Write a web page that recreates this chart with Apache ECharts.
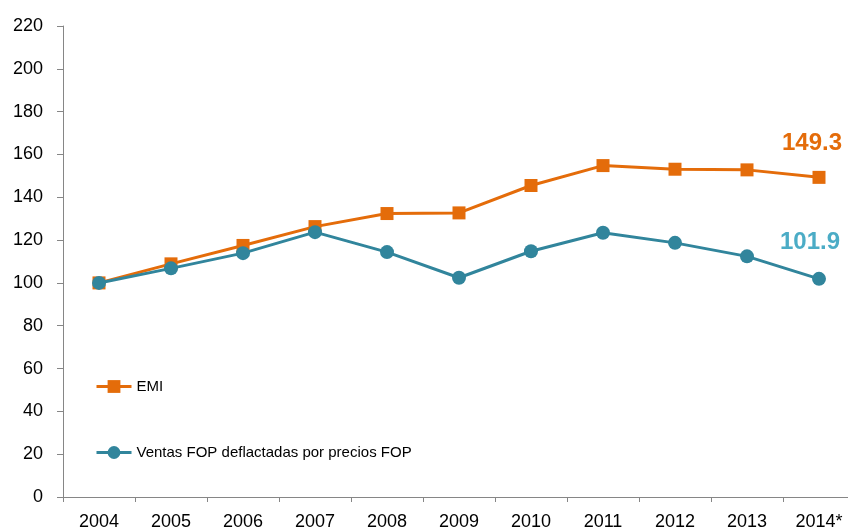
<!DOCTYPE html>
<html>
<head>
<meta charset="utf-8">
<script src="https://cdn.jsdelivr.net/npm/echarts@6/dist/echarts.min.js"></script>
<style>
html,body{margin:0;padding:0;background:#fff;overflow:hidden;width:848px;height:531px;}
#chart{width:855px;height:531px;}
</style>
</head>
<body>
<div id="chart"></div>
<script>
var categories = ['2004','2005','2006','2007','2008','2009','2010','2011','2012','2013','2014*'];
var emiValues = [100, 108.9, 117.5, 126.3, 132.4, 132.7, 145.5, 154.8, 153.1, 152.8, 149.3];
var ventasValues = [100, 106.8, 113.9, 123.7, 114.4, 102.4, 114.8, 123.4, 118.7, 112.4, 101.9];
var seriesNames = ['EMI', 'Ventas FOP deflactadas por precios FOP'];
var yTicks = {min: 0, max: 220, step: 20};

var ORANGE = '#E46C0A';
var TEAL = '#31859C';
var TEAL_LABEL = '#4BACC6';
var FONT = '"Liberation Sans", Arial, sans-serif';

function withLastLabel(values, color, distance, dx) {
  return values.map(function (v, i) {
    if (i === values.length - 1) {
      return {
        value: v,
        label: {
          show: true,
          position: 'top',
          distance: distance,
          offset: [dx, 0],
          color: color,
          fontFamily: FONT,
          fontWeight: 'bold',
          fontSize: 24,
          lineHeight: 24,
          formatter: function (p) { return p.value.toFixed(1); }
        }
      };
    }
    return v;
  });
}

var chart = echarts.init(document.getElementById('chart'), null, {renderer: 'canvas'});
chart.setOption({
  animation: false,
  backgroundColor: '#fff',
  grid: {left: 63, top: 26, bottom: 34, right: 0, containLabel: false},
  legend: {
    orient: 'vertical',
    left: 90,
    top: 374,
    padding: 5,
    itemWidth: 35,
    itemHeight: 16,
    itemGap: 51,
    lineStyle: {width: 3},
    textStyle: {fontFamily: FONT, fontSize: 15, color: '#000'},
    data: seriesNames
  },
  xAxis: {
    type: 'category',
    data: categories,
    boundaryGap: true,
    axisLine: {lineStyle: {color: '#868686', width: 1}},
    axisTick: {show: true, length: 5, lineStyle: {color: '#868686'}},
    axisLabel: {fontFamily: FONT, fontSize: 18, color: '#000', margin: 16, interval: 0},
    splitLine: {show: false}
  },
  yAxis: {
    type: 'value',
    min: yTicks.min,
    max: yTicks.max,
    interval: yTicks.step,
    axisLine: {show: true, lineStyle: {color: '#868686', width: 1}},
    axisTick: {show: true, length: 6, lineStyle: {color: '#868686'}},
    axisLabel: {fontFamily: FONT, fontSize: 18, color: '#000', margin: 20},
    splitLine: {show: false}
  },
  series: [
    {
      name: seriesNames[0],
      type: 'line',
      data: withLastLabel(emiValues, ORANGE, 15, -7),
      symbol: 'rect',
      symbolSize: 13,
      itemStyle: {color: ORANGE},
      lineStyle: {color: ORANGE, width: 3},
      z: 2
    },
    {
      name: seriesNames[1],
      type: 'line',
      data: withLastLabel(ventasValues, TEAL_LABEL, 17, -9),
      symbol: 'circle',
      symbolSize: 14,
      itemStyle: {color: TEAL},
      lineStyle: {color: TEAL, width: 3},
      z: 3
    }
  ]
});
</script>
</body>
</html>
